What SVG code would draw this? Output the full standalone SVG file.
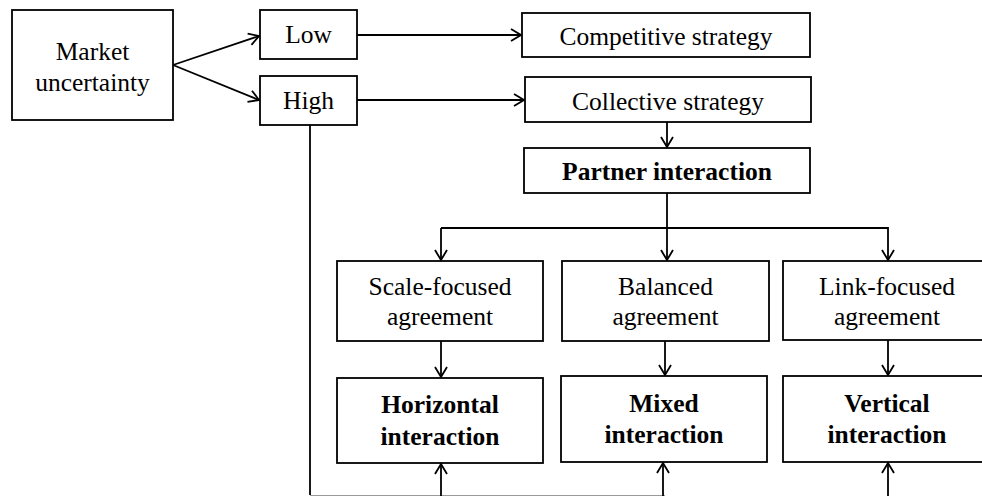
<svg xmlns="http://www.w3.org/2000/svg" width="982" height="496" viewBox="0 0 982 496">
<defs>
<marker id="arr" markerWidth="12" markerHeight="14" refX="11" refY="7" orient="auto" markerUnits="userSpaceOnUse">
<path d="M1,1 L11,7 L1,13" fill="none" stroke="#000" stroke-width="1.8"/>
</marker>
<style>
.box{fill:#fff;stroke:#000;stroke-width:1.8}
.t{font-family:'Liberation Serif','Times New Roman','DejaVu Serif',serif;font-size:25.5px;fill:#000;text-anchor:middle}
.b{font-weight:bold}
.c{fill:none;stroke:#000;stroke-width:1.8}
</style>
</defs>
<rect width="982" height="496" fill="#fff"/>
<g id="connectors">
<line class="c" x1="173" y1="65" x2="259" y2="36" marker-end="url(#arr)"/>
<line class="c" x1="173" y1="65" x2="259" y2="100" marker-end="url(#arr)"/>
<line class="c" x1="357" y1="35" x2="521" y2="35" marker-end="url(#arr)"/>
<line class="c" x1="357" y1="100" x2="524" y2="100" marker-end="url(#arr)"/>
<line class="c" x1="667" y1="122" x2="667" y2="147" marker-end="url(#arr)"/>
<line class="c" x1="667" y1="193" x2="667" y2="260" marker-end="url(#arr)"/>
<polyline class="c" points="441,228 888,228 888,260" marker-end="url(#arr)"/>
<line class="c" x1="441" y1="228" x2="441" y2="260" marker-end="url(#arr)"/>
<line class="c" x1="441" y1="341" x2="441" y2="377" marker-end="url(#arr)"/>
<line class="c" x1="665" y1="341" x2="665" y2="375" marker-end="url(#arr)"/>
<line class="c" x1="888" y1="340" x2="888" y2="375" marker-end="url(#arr)"/>
<line class="c" x1="310" y1="125" x2="310" y2="495"/>
<line x1="310" y1="495.5" x2="665" y2="495.5" stroke="#999" stroke-width="1"/>
<line class="c" x1="441" y1="496" x2="441" y2="464" marker-end="url(#arr)"/>
<line class="c" x1="663" y1="496" x2="663" y2="463" marker-end="url(#arr)"/>
<line class="c" x1="888" y1="496" x2="888" y2="463" marker-end="url(#arr)"/>
</g>
<g font-family="Liberation Serif, Times New Roman, serif">
<g id="market"><rect class="box" x="12" y="10" width="161" height="110"/><text class="t" x="92.5" y="60">Market</text><text class="t" x="92.5" y="91">uncertainty</text></g>
<g id="low"><rect class="box" x="260" y="10" width="97" height="49"/><text class="t" x="308.5" y="43">Low</text></g>
<g id="high"><rect class="box" x="260" y="76" width="97" height="49"/><text class="t" x="308.5" y="109">High</text></g>
<g id="competitive"><rect class="box" x="522" y="13" width="288" height="44"/><text class="t" x="666" y="45">Competitive strategy</text></g>
<g id="collective"><rect class="box" x="525" y="77" width="286" height="45"/><text class="t" x="668" y="110">Collective strategy</text></g>
<g id="partner"><rect class="box" x="524" y="148" width="286" height="45"/><text class="t b" x="667" y="180">Partner interaction</text></g>
<g id="scale"><rect class="box" x="337" y="261" width="206" height="80"/><text class="t" x="440" y="295">Scale-focused</text><text class="t" x="440" y="325">agreement</text></g>
<g id="balanced"><rect class="box" x="562" y="261" width="207" height="80"/><text class="t" x="665.5" y="295">Balanced</text><text class="t" x="665.5" y="325">agreement</text></g>
<g id="link"><rect class="box" x="783" y="261" width="215" height="79"/><text class="t" x="887" y="295">Link-focused</text><text class="t" x="887" y="325">agreement</text></g>
<g id="horizontal"><rect class="box" x="337" y="378" width="206" height="85"/><text class="t b" x="440" y="413">Horizontal</text><text class="t b" x="440" y="445">interaction</text></g>
<g id="mixed"><rect class="box" x="561" y="376" width="206" height="86"/><text class="t b" x="664" y="412">Mixed</text><text class="t b" x="664" y="443">interaction</text></g>
<g id="vertical"><rect class="box" x="783" y="376" width="215" height="86"/><text class="t b" x="887" y="412">Vertical</text><text class="t b" x="887" y="443">interaction</text></g>
</g>
</svg>
